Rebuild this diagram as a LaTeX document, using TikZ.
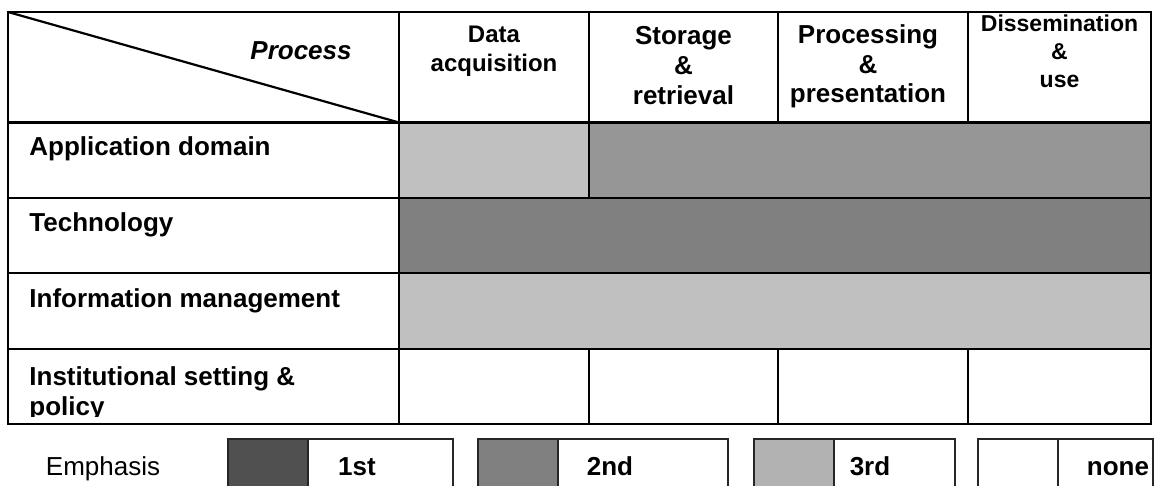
\documentclass[tikz,border=0pt]{standalone}
\usepackage{fontspec}
\setmainfont{Liberation Sans}
\usepackage{tikz}

\definecolor{lightcell}{RGB}{192,192,192}
\definecolor{midcell}{RGB}{150,150,150}
\definecolor{darkcell}{RGB}{128,128,128}
\definecolor{firstgray}{RGB}{80,80,80}
\definecolor{secondgray}{RGB}{128,128,128}
\definecolor{thirdgray}{RGB}{178,178,178}

\tikzset{
	tablerule/.style={line width=1.1pt},
	legendbox/.style={draw=black!85,line width=0.8pt},
	rowlabel/.style={anchor=base west,inner sep=0pt,align=left,font=\bfseries\fontsize{13}{15}\selectfont},
	colhead/.style={anchor=base,inner sep=0pt,align=center},
	legendtext/.style={anchor=base,inner sep=0pt,font=\bfseries\fontsize{13}{15}\selectfont}
}

\begin{document}
\begin{tikzpicture}[x=0.5pt,y=-0.5pt]
	\clip (0,0) rectangle (1156,486);
	\fill[white] (0,0) rectangle (1156,486);
	% shaded cells
	\fill[lightcell] (399,122.5) rectangle (589,198);
	\fill[midcell] (589,122.5) rectangle (1151,198);
	\fill[darkcell] (399,198) rectangle (1151,273);
	\fill[lightcell] (399,273) rectangle (1151,349);
	% table lines
	\draw[tablerule] (8,12) rectangle (1151,424);
	\foreach \y in {122.5,198,273,349}
		\draw[tablerule] (8,\y) -- (1151,\y);
	\draw[tablerule] (399,12) -- (399,424);
	\foreach \x in {589,778,968}
		\draw[tablerule] (\x,12) -- (\x,122.5) (\x,349) -- (\x,424);
	\draw[tablerule] (589,122.5) -- (589,198);
	\draw[tablerule] (8,12) -- (399,122.5);
	% header (base = last line)
	\node[anchor=base east,inner sep=0pt,font=\bfseries\itshape\fontsize{13}{15}\selectfont] (process) at (352,60) {Process};
	\node[colhead,font=\bfseries\fontsize{12}{14.5}\selectfont] (acquisition) at (494,72) {Data\\acquisition};
	\node[colhead,font=\bfseries\fontsize{13}{15}\selectfont] (storage) at (683.5,105) {Storage\\\&\\retrieval};
	\node[colhead,font=\bfseries\fontsize{13}{14.75}\selectfont] (processing) at (868,103) {Processing\\\&\\presentation};
	\node[colhead,font=\bfseries\fontsize{11.5}{14}\selectfont] (dissemination) at (1059.5,88) {Dissemination\\\&\\use};
	% row labels
	\node[rowlabel] (domain) at (29,156) {Application domain};
	\node[rowlabel] (technology) at (29,232) {Technology};
	\node[rowlabel] (infomgmt) at (29,307) {Information management};
	\begin{scope}
		\clip (8,349) rectangle (399,416.5);
		\node[rowlabel] (institutional) at (29,415) {Institutional setting \&\\policy};
	\end{scope}
	% legend
	\node[anchor=base,inner sep=0pt,font=\fontsize{13}{15}\selectfont] (emphasis) at (103,475) {Emphasis};
	\draw[legendbox,fill=firstgray] (228,439) rectangle (308,500);
	\draw[legendbox] (308,439) rectangle (453,500);
	\node[legendtext] (first) at (357,475) {1st};
	\draw[legendbox,fill=secondgray] (478,439) rectangle (558,500);
	\draw[legendbox] (558,439) rectangle (728,500);
	\node[legendtext] (second) at (610,475) {2nd};
	\draw[legendbox,fill=thirdgray] (754,439) rectangle (834,500);
	\draw[legendbox] (834,439) rectangle (955,500);
	\node[legendtext] (third) at (870,475) {3rd};
	\draw[legendbox] (978,439) rectangle (1058,500);
	\draw[legendbox] (1058,439) rectangle (1153,500);
	\node[legendtext] (none) at (1118,475) {none};
\end{tikzpicture}
\end{document}
